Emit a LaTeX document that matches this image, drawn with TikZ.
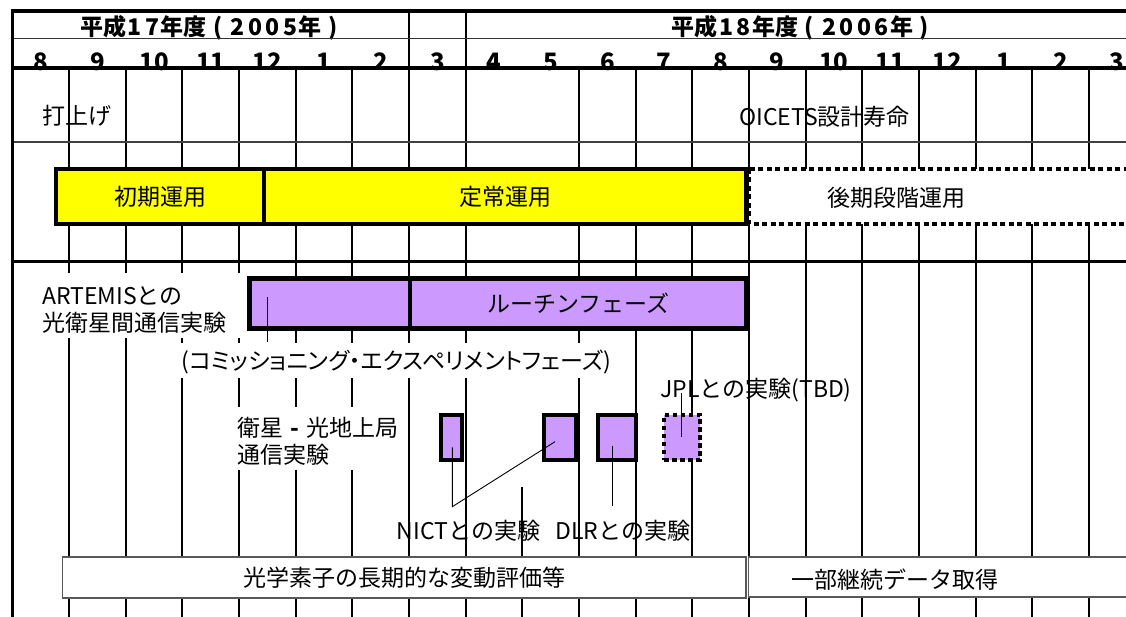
\documentclass[tikz,border=0pt]{standalone}
\usepackage{fontspec}
\setmainfont{Noto Sans CJK JP}
\newfontfamily\pfont[RawFeature=+palt]{Noto Sans CJK JP}
\definecolor{purp}{RGB}{204,153,255}
\definecolor{yel}{RGB}{255,255,0}
\newcommand\yrdg[1]{\makebox[17.5pt]{#1}}
\newcommand\yrpar[1]{\makebox[22pt]{#1}}
\begin{document}
\begin{tikzpicture}[x=1pt,y=-1pt,
  txt/.style={font=\fontsize{23}{27}\selectfont, inner sep=0pt},
  monthlbl/.style={font=\fontsize{24}{24}\selectfont\bfseries, inner sep=0pt, anchor=base},
  yearlbl/.style={font=\fontsize{23}{23}\selectfont\bfseries, inner sep=0pt},
  vline/.style={line width=2.4pt},
  vlinethin/.style={line width=2pt},
  ybox/.style={draw=black, fill=yel, line width=4.5pt, inner sep=0pt, font=\fontsize{23}{27}\selectfont},
  pbox/.style={draw=black, fill=purp, line width=4.5pt, inner sep=0pt, font=\fontsize{23}{27}\selectfont},
  sbox/.style={draw=black, fill=purp, line width=4pt, inner sep=0pt},
  gbox/.style={draw=black!65, fill=white, line width=1.3pt, inner sep=0pt, font=\fontsize{23}{27}\selectfont},
  leader/.style={line width=0.9pt}]
\useasboundingbox (0,0) rectangle (1126,617);
\clip (0,0) rectangle (1126,617);
\fill[white] (0,0) rectangle (1126,617);

% vertical grid lines
\foreach \k in {1,...,6,10,11,...,19}{
  \pgfmathsetmacro{\xx}{round(12.5+56.65*\k)}
  \draw[vline] (\xx,68) -- (\xx,500);
  \draw[vlinethin] (\xx,500) -- (\xx,617);
}
\foreach \k in {7,8}{
  \pgfmathsetmacro{\xx}{round(12.5+56.65*\k)}
  \draw[line width=2.6pt] (\xx,11) -- (\xx,500);
  \draw[vlinethin] (\xx,500) -- (\xx,617);
}
\draw[vlinethin] (522,487) -- (522,617);

% header texts
\node[yearlbl] (fy17) at (212,28) {平成\yrdg{1}\yrdg{7}年度\yrpar{(}\yrdg{2}\yrdg{0}\yrdg{0}\yrdg{5}年\yrpar{)}};
\node[yearlbl] (fy18) at (803.5,28) {平成\yrdg{1}\yrdg{8}年度\yrpar{(}\yrdg{2}\yrdg{0}\yrdg{0}\yrdg{6}年\yrpar{)}};
\foreach \m [count=\i] in {8,9,10,11,12,1,2,3,4,5,6,7,8,9,10,11,12,1,2,3}
  \node[monthlbl] (m\i) at ({12.5+56.65*(\i-0.5)},71) {\m};

% horizontal lines
\draw[line width=3.2pt] (11,11) -- (1126,11);
\draw[line width=1.6pt, black!80] (12,38.5) -- (1126,38.5);
\draw[line width=3.2pt] (12,68) -- (1126,68);
\draw[line width=2pt, black!75] (12,142) -- (1126,142);
\draw[line width=3pt] (12,262) -- (1126,262);
\draw[line width=3.2pt] (12.5,9.5) -- (12.5,617);

% white backgrounds behind labels
\fill[white] (28,273) rectangle (246,338);
\fill[white] (178,343) rectangle (616,378);
\fill[white] (226,407) rectangle (405,470);

% operation phases
\node[ybox, minimum width=208pt, minimum height=55pt] (init) at (160,196.5) {初期運用};
\node[ybox, minimum width=482pt, minimum height=55pt] (steady) at (505,196.5) {定常運用};
\draw[line width=4.5pt, fill=white, dash pattern=on 5pt off 3.5pt] (749,169) rectangle (1160,224);
\node[txt] (late) at (896,198) {後期段階運用};

% texts in top rows
\node[txt] (launch) at (77,116) {打上げ};
\node[txt] (life) at (824.7,117) {OICETS設計寿命};

% ARTEMIS experiments
\node[txt, anchor=west, align=left] (artemis) at (42,309.5) {ARTEMISとの\\光衛星間通信実験};
\node[pbox, minimum width=160.5pt, minimum height=50pt] (comm) at (329.75,303.5) {};
\node[pbox, minimum width=336.5pt, minimum height=50pt] (routine) at (578.25,303.5) {ルーチンフェーズ};
\node[txt, font=\pfont\fontsize{23}{27}\selectfont] (commlbl) at (396.5,362) {(コミッショニング・エクスペリメントフェーズ)};
\coordinate (c1) at (267.5,297);
\coordinate (c2) at (267.5,342);
\draw[leader] (c1) -- (c2);

% ground station experiments
\node[txt, anchor=west, align=left] (ground) at (237,441.5) {衛星\makebox[23pt]{\textbf{-}}光地上局\\通信実験};
\node[sbox, minimum width=20.7pt, minimum height=45pt] (nict1) at (451.7,437.2) {};
\node[sbox, minimum width=32pt, minimum height=45pt] (nict2) at (560.3,437.2) {};
\node[sbox, minimum width=38.6pt, minimum height=45pt] (dlr) at (617,437.2) {};
\node[sbox, minimum width=36pt, minimum height=45pt, dash pattern=on 4.5pt off 3.5pt] (jpl) at (682,437.2) {};

\node[txt] (nictlbl) at (468.5,531) {NICTとの実験};
\node[txt] (dlrlbl) at (623,531) {DLRとの実験};
\node[txt] (jpllbl) at (756,390) {JPLとの実験(TBD)};

\coordinate (n1) at (452.3,447.3);
\coordinate (nv) at (452.3,506.7);
\coordinate (n2) at (555,441.7);
\draw[leader] (n1) -- (nv) -- (n2);
\coordinate (d1) at (612.3,446);
\coordinate (d2) at (612.3,506);
\draw[leader] (d1) -- (d2);
\coordinate (j1) at (681,393.3);
\coordinate (j2) at (681,436.7);
\draw[leader] (j1) -- (j2);

% bottom row
\node[gbox, minimum width=683.5pt, minimum height=41pt] (eval) at (404.25,577.5) {光学素子の長期的な変動評価等};
\draw[draw=black!65, fill=white, line width=1.3pt] (748.5,557) rectangle (1160,597);
\node[txt] (cont) at (895,580) {一部継続データ取得};
\end{tikzpicture}
\end{document}
